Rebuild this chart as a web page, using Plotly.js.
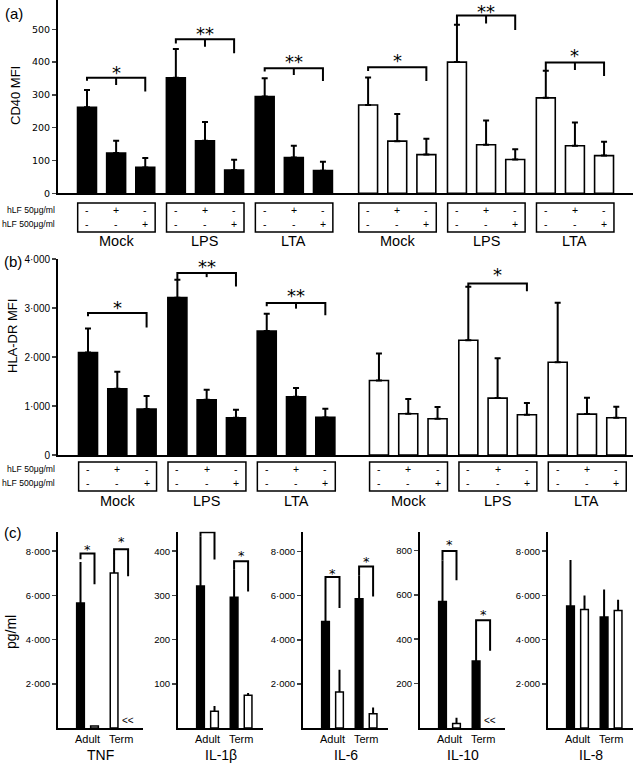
<!DOCTYPE html>
<html><head><meta charset="utf-8">
<script src="https://cdn.plot.ly/plotly-3.0.1.min.js"></script>
<style>html,body{margin:0;padding:0;background:#fff}#chart{width:635px;height:764px}</style>
</head><body><div id="chart"></div>
<script>
// ================= DATA =================
const groups = ['Mock', 'LPS', 'LTA', 'Mock', 'LPS', 'LTA'];
const hLF50Row = ['-', '+', '-'];
const hLF500Row = ['-', '-', '+'];
const rowLabels = ['hLF 50μg/ml', 'hLF 500μg/ml'];

// (a) CD40 MFI: 18 bars (groups x 3 treatments); first 9 = adult (black), last 9 = term (white)
const cd40Mean = [262, 123, 79, 352, 160, 71, 295, 109, 69, 269, 159, 118, 400, 148, 103, 291, 145, 115];
const cd40Err  = [53, 37, 29, 88, 57, 31, 56, 36, 27, 84, 83, 48, 114, 74, 31, 83, 71, 42];
const cd40Ticks = [0, 100, 200, 300, 400, 500];
// brackets: [group, top, leftEnd, midEnd, rightEnd, stars, starLevel]
const cd40Brackets = [
  [0, 352, 343, 330, 310, '*', 381],
  [1, 470, 457, 447, 427, '**', 500],
  [2, 381, 371, 361, 342, '**', 415],
  [3, 384, 373, null, 342, '*', 417],
  [4, 542, 514, 518, 498, '**', 567],
  [5, 399, 374, 376, 358, '*', 432]
];

// (b) HLA-DR MFI
const hlaMean = [2091, 1351, 937, 3211, 1127, 760, 2532, 1188, 767, 1521, 842, 740, 2342, 1161, 821, 1894, 835, 760];
const hlaErr  = [489, 346, 265, 367, 204, 163, 353, 177, 177, 550, 299, 238, 1093, 815, 238, 1215, 333, 224];
const hlaTicks = [0, 1000, 2000, 3000, 4000];
const hlaBrackets = [
  [0, 2899, 2831, null, 2600, '*', 3100],
  [1, 3713, 3578, 3630, 3440, '**', 3930],
  [2, 3100, 3035, 2987, 2851, '**', 3347],
  [4, 3500, 3435, null, 3340, '*', 3770]
];

// (c) cytokines, pg/ml; order: Adult-black, Adult-white, Term-black, Term-white
const cytokines = ['TNF', 'IL-1β', 'IL-6', 'IL-10', 'IL-8'];
const donors = ['Adult', 'Term'];
const tnfVals  = [5656, 90, 7014, null];
const tnfErr   = [1850, 0, 900, 0];
const il1bVals = [321, 38, 296, 74];
const il1bErr  = [113, 12, 62, 5];
const il6Vals  = [4834, 1633, 5864, 649];
const il6Err   = [1561, 1011, 1043, 285];
const il10Vals = [570, 20, 302, null];
const il10Err  = [185, 26, 135, 0];
const il8Vals  = [5520, 5366, 5022, 5321];
const il8Err   = [2080, 634, 1249, 484];
const bigTicks = [2000, 4000, 6000, 8000];
const il1bTicks = [100, 200, 300, 400];
const il10Ticks = [200, 400, 600, 800];
// brackets: [firstBar, top, leftEnd, rightEnd, starLevel]
const tnfBrackets  = [[0, 7891, 7633, 6502, 8222], [2, 8086, 7900, 6864, 8584]];
const il1bBrackets = [[0, 443, 434, 381, 468], [2, 377, 358, 309, 396]];
const il6Brackets  = [[0, 6848, 6395, 5442, 7147], [2, 7329, 6907, 5968, 7678]];
const il10Brackets = [[0, 797, 755, 665, 838], [2, 485, 437, 348, 524]];
const tnfBelow = [3];   // "<<" : below detection
const il10Below = [3];

// ================= LAYOUT HELPERS =================
const W = 635, H = 764;
const px = v => v / W;
const py = v => 1 - v / H;
const FONT = 'Liberation Sans, Arial, sans-serif';
const GS = 3.05;             // group step (bar slots)
const halfA = 0.5, halfB = 0.78;
const slotA = 29.13, slotB = 29.3;
const pos = (g, j, half) => g * GS + j + (g >= 3 ? half : 0);
const fmtDot = v => v >= 1000 ? Math.floor(v / 1000) + '·' + String(v % 1000).padStart(3, '0') : String(v);

const traces = [];
const shapes = [];
const annotations = [];
const ann = o => annotations.push(Object.assign({ showarrow: false, xanchor: 'center', yanchor: 'middle' }, o));

function mfiPanel(xa, ya, mean, err, brackets, half, starSize) {
  const xs = [], cols = [];
  mean.forEach((v, i) => { const g = Math.floor(i / 3), j = i % 3; xs.push(pos(g, j, half)); cols.push(g < 3 ? '#000' : '#fff'); });
  traces.push({
    type: 'bar', x: xs, y: mean, xaxis: xa, yaxis: ya, width: 0.65,
    marker: { color: cols, line: { color: '#000', width: 1.6 } },
    error_y: { type: 'data', symmetric: false, array: err, arrayminus: mean.map(() => 0), color: '#000', thickness: 2, width: 3 },
    hoverinfo: 'skip', showlegend: false
  });
  const bx = [], by = [];
  brackets.forEach(b => {
    const [g, top, le, me, re, st, sy] = b;
    const xl = pos(g, 0, half), xm = pos(g, 1, half), xr = pos(g, 2, half);
    bx.push(xl, xl, xr, xr, null); by.push(le, top, top, re, null);
    if (me !== null) { bx.push(xm, xm, null); by.push(top, me, null); }
    ann({ xref: xa, yref: ya, x: xm, y: sy, text: st, yshift: -4,
      font: { family: 'DejaVu Sans, sans-serif', size: starSize, color: '#000' } });
  });
  traces.push({ type: 'scatter', mode: 'lines', x: bx, y: by, xaxis: xa, yaxis: ya, line: { color: '#000', width: 2 }, hoverinfo: 'skip', showlegend: false, cliponaxis: false });
}

function boxes(xa, half, yTop, yBot, yRow1, yRow2, yLab) {
  for (let g = 0; g < 6; g++) {
    shapes.push({ type: 'rect', xref: xa, yref: 'paper', x0: pos(g, 0, half) - 0.32, x1: pos(g, 2, half) + 0.34,
      y0: py(yBot), y1: py(yTop), line: { color: '#000', width: 1.5 } });
    for (let j = 0; j < 3; j++) {
      ann({ xref: xa, yref: 'paper', x: pos(g, j, half), y: py(yRow1), text: hLF50Row[j], font: { family: FONT, size: 10.5, color: '#000' } });
      ann({ xref: xa, yref: 'paper', x: pos(g, j, half), y: py(yRow2), text: hLF500Row[j], font: { family: FONT, size: 10.5, color: '#000' } });
    }
    ann({ xref: xa, yref: 'paper', x: pos(g, 1, half), y: py(yLab), text: groups[g], font: { family: FONT, size: 14.5, color: '#000' } });
  }
  ann({ xref: 'paper', yref: 'paper', x: px(57), y: py(yRow1), xanchor: 'right', text: rowLabels[0], font: { family: FONT, size: 8.6, color: '#000' } });
  ann({ xref: 'paper', yref: 'paper', x: px(57), y: py(yRow2), xanchor: 'right', text: rowLabels[1], font: { family: FONT, size: 8.6, color: '#000' } });
}

mfiPanel('x', 'y', cd40Mean, cd40Err, cd40Brackets, halfA, 18);
mfiPanel('x2', 'y2', hlaMean, hlaErr, hlaBrackets, halfB, 18);
boxes('x', halfA, 203, 232, 210, 224, 241);
boxes('x2', halfB, 462, 491, 469, 483, 501);

// (c)
const cVals = [tnfVals, il1bVals, il6Vals, il10Vals, il8Vals];
const cErr = [tnfErr, il1bErr, il6Err, il10Err, il8Err];
const cBr = [tnfBrackets, il1bBrackets, il6Brackets, il10Brackets, []];
const cBelow = [tnfBelow, [], [], il10Below, []];
const cTicks = [bigTicks, il1bTicks, bigTicks, il10Ticks, bigTicks];
const cPxPerUnit = [44.2 / 2000, 44.2 / 100, 44.1 / 2000, 44.4 / 200, 44.2 / 2000];
const cLeft = [58, 178, 303, 420, 548];
const cTop = 531.7, cBot = 728, cW = 85, cUnit = 14;
const cX = [0, 1, 2.4, 3.4];
const cFill = ['#000', '#fff', '#000', '#fff'];

const layout = {
  width: W, height: H, margin: { l: 0, r: 0, t: 0, b: 0 }, paper_bgcolor: '#fff', plot_bgcolor: 'rgba(0,0,0,0)',
  barmode: 'overlay', showlegend: false, font: { family: FONT, color: '#000' }
};
const axLine = { showline: true, linewidth: 2, linecolor: '#000', showgrid: false, zeroline: false, fixedrange: true };

layout.xaxis = Object.assign({}, axLine, { domain: [px(58), px(633)], range: [-(87 - 58) / slotA, -(87 - 58) / slotA + 575 / slotA], showticklabels: false, ticks: '', anchor: 'y' });
layout.yaxis = Object.assign({}, axLine, { domain: [py(193.3), 1], range: [0, 193.3 / 0.328], tickvals: cd40Ticks, ticktext: cd40Ticks.map(String), ticks: 'outside', ticklen: 4, tickwidth: 1.5, tickfont: { family: 'DejaVu Sans, sans-serif', size: 9.5 }, anchor: 'x' });
layout.xaxis2 = Object.assign({}, axLine, { domain: [px(58), px(633)], range: [-(88 - 58) / slotB, -(88 - 58) / slotB + 575 / slotB], showticklabels: false, ticks: '', anchor: 'y2' });
layout.yaxis2 = Object.assign({}, axLine, { domain: [py(455), py(259)], range: [0, 4000], tickvals: hlaTicks, ticktext: hlaTicks.map(fmtDot), ticks: 'outside', ticklen: 4, tickwidth: 1.5, tickfont: { family: FONT, size: 10 }, anchor: 'x2' });

cytokines.forEach((name, i) => {
  const n = 3 + i, xa = 'x' + n, ya = 'y' + n;
  const fills = cFill.slice();
  if (i === 0) fills[2] = '#fff'; // TNF term bar drawn open in the original
  traces.push({
    type: 'bar', x: cX, y: cVals[i], xaxis: xa, yaxis: ya, width: 0.55,
    marker: { color: fills, line: { color: '#000', width: 1.5 } },
    error_y: { type: 'data', symmetric: false, array: cErr[i], arrayminus: cX.map(() => 0), color: '#000', thickness: 2, width: 0 },
    hoverinfo: 'skip', showlegend: false
  });
  const bx = [], by = [];
  cBr[i].forEach(b => {
    const [k, top, le, re, sy] = b;
    bx.push(cX[k], cX[k], cX[k + 1], cX[k + 1], null); by.push(le, top, top, re, null);
    ann({ xref: xa, yref: ya, x: (cX[k] + cX[k + 1]) / 2, y: sy, text: '*', yshift: -3,
      font: { family: 'DejaVu Sans, sans-serif', size: 13, color: '#000' } });
  });
  if (bx.length) traces.push({ type: 'scatter', mode: 'lines', x: bx, y: by, xaxis: xa, yaxis: ya, line: { color: '#000', width: 2 }, hoverinfo: 'skip', showlegend: false, cliponaxis: false });
  cBelow[i].forEach(k => ann({ xref: xa, yref: ya, x: cX[k], y: 0, yanchor: 'bottom', text: '<<', font: { family: FONT, size: 10, color: '#000' } }));
  const x0 = -(22.5) / cUnit;
  layout['xaxis' + n] = Object.assign({}, axLine, { domain: [px(cLeft[i]), px(cLeft[i] + cW)], range: [x0, x0 + cW / cUnit], tickvals: [(cX[0] + cX[1]) / 2, (cX[2] + cX[3]) / 2], ticktext: donors, ticks: '', ticklen: 0, tickfont: { family: FONT, size: 11 }, anchor: ya });
  layout['yaxis' + n] = Object.assign({}, axLine, { domain: [py(cBot), py(cTop)], range: [0, (cBot - cTop) / cPxPerUnit[i]], tickvals: cTicks[i], ticktext: cTicks[i].map(fmtDot), ticks: 'outside', ticklen: 4, tickwidth: 1.5, tickfont: { family: FONT, size: 9.5 }, anchor: xa });
  ann({ xref: xa + ' domain', yref: 'paper', x: 0.5, y: py(755), text: name, font: { family: FONT, size: 14, color: '#000' } });
});

// panel labels & axis titles
const txt = (x, y, t, size, extra) => ann(Object.assign({ xref: 'paper', yref: 'paper', x: px(x), y: py(y), text: t, font: { family: FONT, size: size, color: '#000' } }, extra || {}));
txt(3, 13, '(a)', 15, { xanchor: 'left' });
txt(2, 262, '(b)', 15, { xanchor: 'left' });
txt(2, 532, '(c)', 15, { xanchor: 'left' });
txt(15, 96, 'CD40 MFI', 13, { textangle: -90 });
txt(12, 336, 'HLA-DR MFI', 13, { textangle: -90 });
txt(11, 632, 'pg/ml', 14, { textangle: -90 });

layout.shapes = shapes;
layout.annotations = annotations;
Plotly.newPlot('chart', traces, layout, { staticPlot: true, displayModeBar: false });
</script></body></html>
